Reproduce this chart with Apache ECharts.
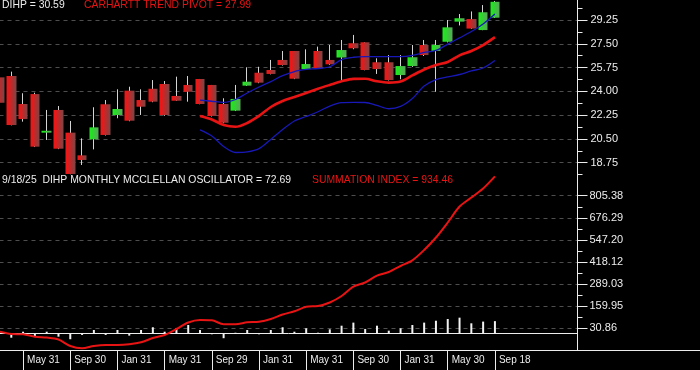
<!DOCTYPE html>
<html><head><meta charset="utf-8">
<script src="https://cdn.jsdelivr.net/npm/echarts@6/dist/echarts.min.js"></script>
<style>html,body{margin:0;padding:0;background:#000;}#c{width:700px;height:370px;}</style>
</head><body><div id="c"></div>
<script>
// ---- categories (monthly, Mar 2022 .. Sep 2025, plus empty right margin) ----
const months = ['Mar 31','Apr 29','May 31','Jun 30','Jul 29','Aug 31','Sep 30','Oct 31','Nov 30','Dec 30',
  'Jan 31','Feb 28','Mar 31 ','Apr 28','May 31 ','Jun 30 ','Jul 31','Aug 31 ','Sep 29','Oct 31 ',
  'Nov 30 ','Dec 29','Jan 31 ','Feb 29','Mar 28','Apr 30','May 31  ','Jun 28','Jul 31 ','Aug 30',
  'Sep 30 ','Oct 31  ','Nov 29','Dec 31','Jan 31  ','Feb 28 ','Mar 31  ','Apr 30 ','May 30','Jun 30  ',
  'Jul 31  ','Aug 29','Sep 18','e1','e2','e3','e4','e5','e6','e7'];
const lastBar = 42;

// ---- price candles ----
const open  = [25.03,25.13,23.07,23.80,20.96,22.63,20.96,19.29,20.47,23.05,22.26,24.05,23.36,24.19,24.54,23.66,24.47,24.91,24.47,23.07,22.58,24.42,25.37,25.57,26.31,26.97,25.64,26.97,26.31,26.49,27.54,27.61,26.14,26.14,25.20,25.86,27.41,26.97,27.65,29.13,29.32,28.51,29.42];
const close = [23.16,21.52,21.96,19.93,21.10,19.78,17.92,18.95,21.35,20.79,22.70,21.84,22.87,23.24,22.26,23.31,23.97,23.07,22.19,21.69,23.44,24.71,24.64,25.28,25.94,24.93,26.01,25.70,25.99,27.04,27.17,25.57,25.64,24.83,25.86,26.51,26.67,27.41,28.71,29.38,28.62,29.82,30.59];
const high  = [25.45,25.45,23.86,23.90,22.63,22.92,21.82,20.54,22.83,23.36,24.15,24.34,24.15,24.83,24.76,25.08,25.13,24.91,24.47,23.49,24.47,25.77,25.81,26.31,26.97,26.97,27.09,27.29,27.41,27.78,28.15,27.61,26.43,26.67,26.67,27.41,27.78,27.78,29.25,29.69,29.88,30.35,30.65];
const low   = [23.10,21.50,21.77,19.90,20.42,19.75,17.90,18.58,19.73,20.75,22.02,21.80,22.26,23.20,22.20,23.30,23.24,23.05,22.15,21.65,22.55,24.40,24.60,25.25,25.90,24.90,25.60,25.65,25.95,24.83,27.10,25.55,25.28,24.80,24.89,25.80,26.60,23.97,27.60,28.85,28.60,28.50,29.40];

// ---- trend lines (start Aug 2023, index 17) ----
const lineStart = 17;
const pivot     = [22.19,21.93,21.52,21.39,21.67,22.19,22.85,23.29,23.58,23.88,24.19,24.47,24.74,24.92,24.93,24.74,24.64,24.72,25.17,25.61,25.94,26.16,26.65,26.97,27.41,27.99];
const bandUpper = [23.36,23.27,23.19,23.40,23.88,24.32,24.72,25.15,25.46,25.61,25.68,25.81,26.34,26.51,26.55,26.55,26.55,26.55,26.64,26.86,27.01,27.48,27.93,28.40,28.96,29.69];
const bandLower = [21.16,20.71,19.94,19.50,19.54,19.78,20.46,21.19,21.82,22.15,22.50,22.92,23.17,23.19,23.18,22.96,22.72,22.89,23.47,24.39,24.87,25.06,25.24,25.50,25.72,26.27];

// ---- lower panel ----
const summation  = [11.0,-2.4,-4.2,-18.2,-22.9,-34.6,-72.5,-86.0,-72.5,-66.7,-66.7,-62.6,-50.9,-25.8,-8.3,26.8,64.7,79.3,77.6,54.2,54.2,65.9,69.4,85.2,111.5,130.2,156.4,161.1,181.6,219.5,274.4,298.4,338.1,359.7,394.8,428.0,488.2,561.2,648.9,742.3,794.9,847.4,918.0];
const oscillator = [5,-24,11,-14,11,-18,-33,-8,21,-8,21,-12,21,37,11,31,50,21,-4,-27,5,21,-4,21,37,11,31,5,25,46,64,27,46,17,31,50,64,75,85,93,60,70,72.69];

// ---- axis tick values ----
const priceTicks = [18.75,20.50,22.25,24.00,25.75,27.50,29.25];
const priceMinor = [17.875,19.625,21.375,23.125,24.875,26.625,28.375,30.125];
const sumTicks   = [30.86,159.95,289.03,418.12,547.20,676.29,805.38];
const sumMinor   = [95.40,224.49,353.57,482.66,611.74,740.83];

const FONT = 'Liberation Sans, Arial, sans-serif';
const WHITE = '#ececec', RED = '#e81414', BLUE = '#1818b8', GRID = '#4e4e4e', WICK = '#d4d4d4';

const pad = (arr) => Array(lineStart).fill(null).concat(arr);
const bodies = open.map((o, i) => [o, close[i], Math.min(o, close[i]), Math.max(o, close[i])]);
const wicks  = high.map((h, i) => [low[i], low[i], low[i], h]);
const labelShown = (idx) => idx % 4 === 2 && idx <= lastBar;

const redGrad = new echarts.graphic.LinearGradient(0, 0, 1, 0, [{offset:0,color:'#ff1010'},{offset:1,color:'#7a4646'}]);
const greenGrad = new echarts.graphic.LinearGradient(0, 0, 1, 0, [{offset:0,color:'#18f018'},{offset:1,color:'#5aa65a'}]);

const gridBase = {left: -0.5, width: 578, outerBoundsMode: 'none', containLabel: false};
const titleStyle = (c) => ({color: c, fontSize: 10.4, fontWeight: 'normal', fontFamily: FONT});
const option = {
  backgroundColor: '#000',
  animation: false,
  title: [
    {text: 'DIHP = 30.59', left: 2, top: 0.5, padding: 0, textStyle: titleStyle(WHITE)},
    {text: 'CARHARTT TREND PIVOT = 27.99', left: 84, top: 0.5, padding: 0, textStyle: titleStyle(RED)},
    {text: '9/18/25  DIHP MONTHLY MCCLELLAN OSCILLATOR = 72.69', left: 2, top: 175, padding: 0, textStyle: titleStyle(WHITE)},
    {text: 'SUMMATION INDEX = 934.46', left: 312, top: 175, padding: 0, textStyle: titleStyle(RED)}
  ],
  grid: [
    Object.assign({top: -0.38, height: 174.96}, gridBase),
    Object.assign({top: 170.94, height: 179.46}, gridBase),
    {left: 0, width: 700, top: 340, height: 10.4, outerBoundsMode: 'none', containLabel: false}
  ],
  xAxis: [
    {type: 'category', gridIndex: 0, data: months, boundaryGap: false, show: false},
    {type: 'category', gridIndex: 1, data: months, boundaryGap: false, position: 'bottom',
      axisLine: {onZero: false, lineStyle: {color: WHITE, width: 1}},
      axisTick: {interval: labelShown, length: 20, lineStyle: {color: WHITE}},
      axisLabel: {interval: labelShown, color: WHITE, fontSize: 10, fontFamily: FONT, align: 'left', padding: [0,0,0,4], margin: 5},
      splitLine: {show: false}},
    {type: 'category', gridIndex: 1, data: months, boundaryGap: false, position: 'top',
      axisLine: {onZero: true, lineStyle: {color: WHITE, width: 1}},
      axisTick: {show: false}, axisLabel: {show: false}, splitLine: {show: false}},
    {type: 'value', gridIndex: 2, min: 0, max: 1, position: 'bottom',
      axisLine: {show: true, onZero: false, lineStyle: {color: WHITE, width: 1}},
      axisTick: {show: false}, axisLabel: {show: false}, splitLine: {show: false}}
  ],
  yAxis: [
    {type: 'value', gridIndex: 0, position: 'right', min: 17.875, max: 30.75, scale: true,
      axisLine: {show: true, lineStyle: {color: WHITE}},
      axisTick: {show: true, customValues: priceTicks, length: 10, lineStyle: {color: WHITE}},
      axisLabel: {customValues: priceTicks, formatter: v => v.toFixed(2), color: WHITE, fontSize: 11, fontFamily: FONT, margin: 13},
      splitLine: {show: true, lineStyle: {color: GRID, type: [4, 4]}}},
    {type: 'value', gridIndex: 0, position: 'right', min: 17.875, max: 30.75, scale: true,
      axisLine: {show: false},
      axisTick: {show: true, customValues: priceMinor, length: 5, lineStyle: {color: WHITE}},
      axisLabel: {show: false}, splitLine: {show: false}},
    {type: 'value', gridIndex: 1, position: 'right', min: -98.23, max: 950,
      axisLine: {show: true, onZero: false, lineStyle: {color: WHITE}},
      axisTick: {show: true, customValues: sumTicks, length: 10, lineStyle: {color: WHITE}},
      axisLabel: {customValues: sumTicks, formatter: v => v.toFixed(2), color: WHITE, fontSize: 11, fontFamily: FONT, margin: 12},
      splitLine: {show: true, lineStyle: {color: GRID, type: [4, 4]}}},
    {type: 'value', gridIndex: 1, position: 'right', min: -98.23, max: 950,
      axisLine: {show: false},
      axisTick: {show: true, customValues: sumMinor, length: 5, lineStyle: {color: WHITE}},
      axisLabel: {show: false}, splitLine: {show: false}},
    {type: 'value', gridIndex: 2, show: false, min: 0, max: 1}
  ],
  series: [
    {type: 'candlestick', name: 'wick', xAxisIndex: 0, yAxisIndex: 0, data: wicks, barWidth: 1,
      itemStyle: {color: WICK, color0: WICK, borderColor: WICK, borderColor0: WICK, borderColorDoji: WICK, borderWidth: 1}, z: 2},
    {type: 'candlestick', name: 'DIHP', xAxisIndex: 0, yAxisIndex: 0, data: bodies, barWidth: 10,
      itemStyle: {color: greenGrad, color0: redGrad, borderColor: 'rgba(0,0,0,0)', borderColor0: 'rgba(0,0,0,0)', borderColorDoji: 'rgba(0,0,0,0)', borderWidth: 0}, z: 3},
    {type: 'line', name: 'pivot', xAxisIndex: 0, yAxisIndex: 0, data: pad(pivot), symbol: 'none', smooth: 0.3,
      lineStyle: {color: RED, width: 2.6}, z: 4},
    {type: 'line', name: 'upper', xAxisIndex: 0, yAxisIndex: 0, data: pad(bandUpper), symbol: 'none', smooth: 0.3,
      lineStyle: {color: BLUE, width: 1.3}, z: 4},
    {type: 'line', name: 'lower', xAxisIndex: 0, yAxisIndex: 0, data: pad(bandLower), symbol: 'none', smooth: 0.3,
      lineStyle: {color: BLUE, width: 1.3}, z: 4},
    {type: 'bar', name: 'osc', xAxisIndex: 1, yAxisIndex: 2, data: oscillator, barWidth: 2,
      itemStyle: {color: '#f2f2f2'}, z: 3},
    {type: 'line', name: 'sum', xAxisIndex: 1, yAxisIndex: 2, data: summation, symbol: 'none', smooth: 0.3,
      lineStyle: {color: RED, width: 2}, z: 4}
  ]
};
const chart = echarts.init(document.getElementById('c'), null, {renderer: 'canvas'});
chart.setOption(option);
</script></body></html>
